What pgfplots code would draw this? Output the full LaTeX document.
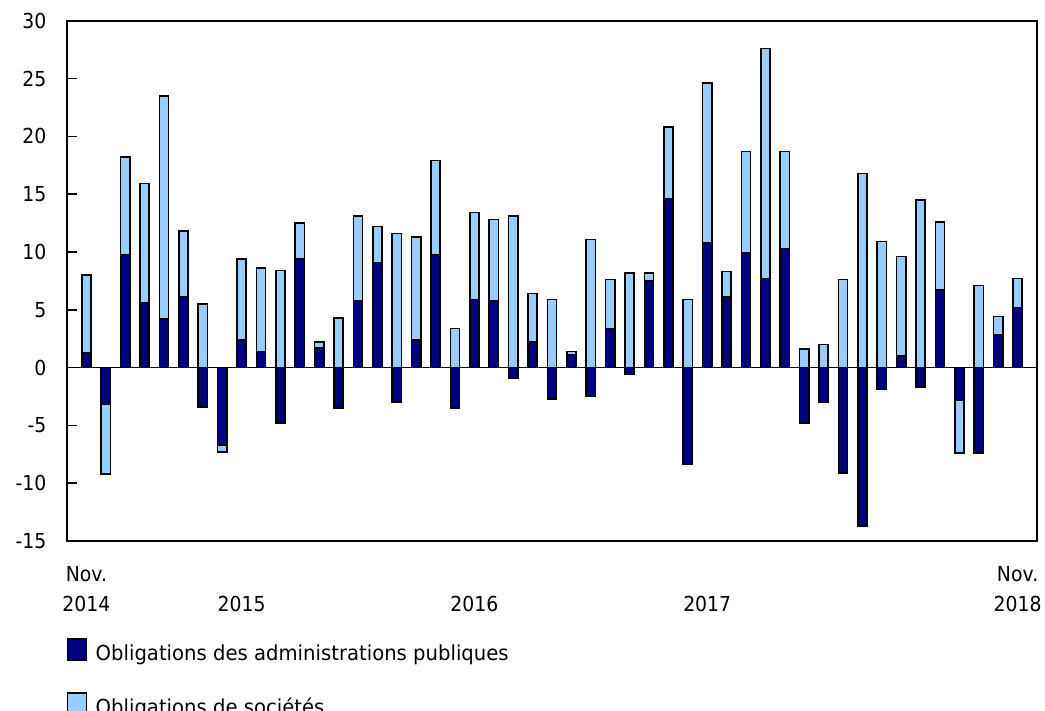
\documentclass[border=0pt]{standalone}
\usepackage{fontspec}
\setmainfont{DejaVu Sans}
\newfontfamily\tickfont[FakeStretch=0.91]{DejaVu Sans}
\newfontfamily\legfont[FakeStretch=0.95]{DejaVu Sans}
\usepackage{pgfplots}
\usepackage{pgfplotstable}
\pgfplotsset{compat=1.18}
\definecolor{govc}{RGB}{0,0,128}
\definecolor{corpc}{RGB}{153,204,255}

% idx: month index (0 = Nov. 2014 ... 48 = Nov. 2018)
% gov: government bonds, corp: corporate bonds
\pgfplotstableread{
idx gov corp
0 1.3 6.7
1 -3.2 -6.0
2 9.8 8.4
3 5.6 10.3
4 4.2 19.3
5 6.1 5.7
6 -3.4 5.5
7 -6.7 -0.6
8 2.4 7.0
9 1.4 7.2
10 -4.8 8.4
11 9.4 3.1
12 1.7 0.5
13 -3.5 4.3
14 5.8 7.3
15 9.1 3.1
16 -3.0 11.6
17 2.4 8.9
18 9.8 8.1
19 -3.5 3.4
20 5.9 7.5
21 5.8 7.0
22 -0.9 13.1
23 2.2 4.2
24 -2.7 5.9
25 1.1 0.3
26 -2.5 11.1
27 3.4 4.2
28 -0.6 8.2
29 7.5 0.7
30 14.6 6.2
31 -8.4 5.9
32 10.8 13.8
33 6.1 2.2
34 9.9 8.8
35 7.7 19.9
36 10.3 8.4
37 -4.8 1.6
38 -3.0 2.0
39 -9.1 7.6
40 -13.7 16.8
41 -1.9 10.9
42 1.0 8.6
43 -1.7 14.5
44 6.7 5.9
45 -2.8 -4.6
46 -7.4 7.1
47 2.8 1.6
48 5.2 2.5
}\bonds

\begin{document}
\begin{tikzpicture}
\useasboundingbox (-50.25pt,-126.75pt) rectangle (733.5pt,405.75pt);
\begin{axis}[
  scale only axis,
  width=727.5pt, height=390.2pt,
  xmin=-1, xmax=49, ymin=-15, ymax=30,
  axis line style={line width=1.4pt, black},
  tick align=inside,
  ytick={-15,-10,...,30},
  ytick pos=left,
  major tick length=7.5pt,
  ytick style={line width=1.2pt, black},
  xtick={0,8,20,32,48},
  xticklabels={{Nov.\\2014},{\phantom{Nov.}\\2015},{\phantom{Nov.}\\2016},{\phantom{Nov.}\\2017},{Nov.\\2018}},
  xtick style={draw=none},
  xticklabel style={align=center, anchor=north, inner sep=0pt, yshift=-18.55pt,
    font=\tickfont\fontsize{15.5}{22.5}\selectfont},
  yticklabel style={anchor=east, inner sep=0pt, xshift=-15.3pt,
    font=\tickfont\fontsize{15.5}{18}\selectfont},
  /pgf/number format/assume math mode=true,
  extra y ticks={0},
  extra y tick labels={},
  extra y tick style={grid=major, major grid style={black, line width=1pt}, major tick length=0pt},
  legend cell align=left,
  legend style={at={(0,0)}, anchor=north west, yshift=-73pt, xshift=-0.3pt,
    draw=none, fill=none, inner sep=0pt, outer sep=0pt,
    row sep=22.4pt, column sep=6.2pt,
    nodes={inner sep=0pt},
    font=\legfont\fontsize{15.5}{18}\selectfont},
  legend image code/.code={\draw[#1, draw=black, line width=1.1pt] (0pt,-4.82pt) rectangle (14.5pt,10.73pt);},
]
\addplot[ybar, bar shift=0pt, bar width=6.9pt, fill=corpc, draw=black, line width=1.1pt, forget plot]
  table[x=idx, y expr={(\thisrow{gov}*\thisrow{corp}>0) ? (\thisrow{gov}+\thisrow{corp}) : \thisrow{corp}}] {\bonds};
\addplot[ybar, bar shift=0pt, bar width=6.9pt, fill=govc, draw=black, line width=1.1pt, forget plot]
  table[x=idx, y=gov] {\bonds};
\addlegendimage{fill=govc}
\addlegendentry{Obligations des administrations publiques}
\addlegendimage{fill=corpc}
\addlegendentry{Obligations de sociétés}
\end{axis}
\end{tikzpicture}
\end{document}
